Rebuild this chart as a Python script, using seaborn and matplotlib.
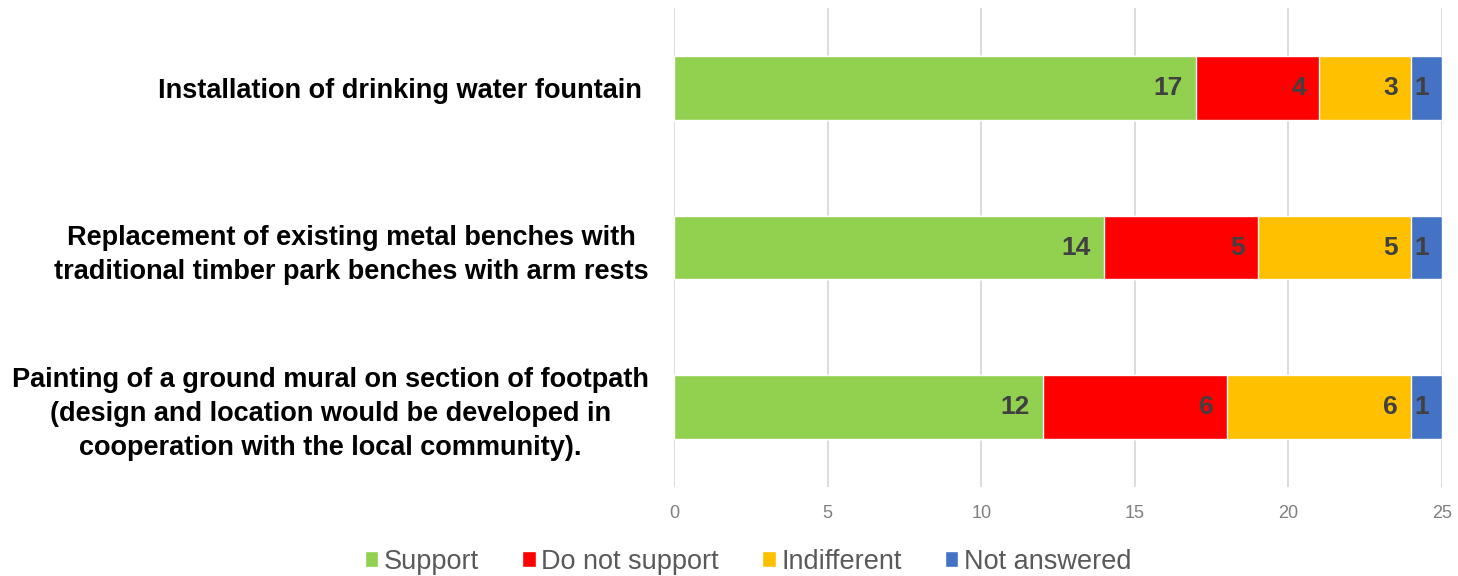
import numpy as np
import pandas as pd
import seaborn as sns
from matplotlib import pyplot as plt
from matplotlib.patches import Patch

# data
questions = [
    "Installation of drinking water fountain ",
    "Replacement of existing metal benches with\ntraditional timber park benches with arm rests",
    "Painting of a ground mural on section of footpath\n(design and location would be developed in\ncooperation with the local community).",
]
series = ["Support", "Do not support", "Indifferent", "Not answered"]
support = [17, 14, 12]
not_support = [4, 5, 6]
indifferent = [3, 5, 6]
not_answered = [1, 1, 1]
colors = ["#92D050", "#FF0000", "#FFC000", "#4472C4"]
x_ticks = [0, 5, 10, 15, 20, 25]

sns.set_theme(style="white")
plt.rcParams["font.family"] = ["Liberation Sans", "DejaVu Sans"]

values = np.array([support, not_support, indifferent, not_answered])
cum = values.cumsum(axis=0)

fig = plt.figure(figsize=(14.58, 5.76), dpi=100)
ax = fig.add_axes([0.4623, 0.1545, 0.5267, 0.8315])

# stacked bars: draw cumulative totals from widest to narrowest
for i in range(len(series) - 1, -1, -1):
    df = pd.DataFrame({"question": questions, "value": cum[i]})
    sns.barplot(data=df, x="value", y="question", color=colors[i],
                orient="h", width=0.4, saturation=1, ax=ax, zorder=2)

# value labels at inside end of each segment
for i in range(len(series)):
    for j in range(len(questions)):
        ax.annotate(str(values[i][j]), xy=(cum[i][j], j), xytext=(-9.5, 0),
                    textcoords="offset points", ha="right", va="center",
                    fontsize=19, fontweight="bold", color="#404040", zorder=3)

ax.set_xlim(0, 25)
ax.set_ylim(2.5, -0.5)
ax.set_xticks(x_ticks)
ax.set_xlabel("")
ax.set_ylabel("")
ax.xaxis.grid(True, color="#D9D9D9", linewidth=1.3, zorder=0)
ax.set_axisbelow(True)
for s in ax.spines.values():
    s.set_visible(False)
ax.tick_params(axis="x", colors="#7F7F7F", labelsize=13, length=0, pad=13)
ax.tick_params(axis="y", length=0, pad=18)
for lab in ax.get_yticklabels():
    lab.set_fontsize(19.5)
    lab.set_fontweight("bold")
    lab.set_color("black")
    lab.set_multialignment("center")
    lab.set_linespacing(1.4)

handles = [Patch(facecolor=c, label=s) for c, s in zip(colors, series)]
fig.legend(handles=handles, loc="center", bbox_to_anchor=(0.513, 0.025), ncol=4,
           frameon=False, fontsize=19.5, handlelength=0.5, handleheight=0.5,
           handletextpad=0.2, columnspacing=1.6, labelcolor="#595959")

fig.savefig("out.png", dpi=100)
